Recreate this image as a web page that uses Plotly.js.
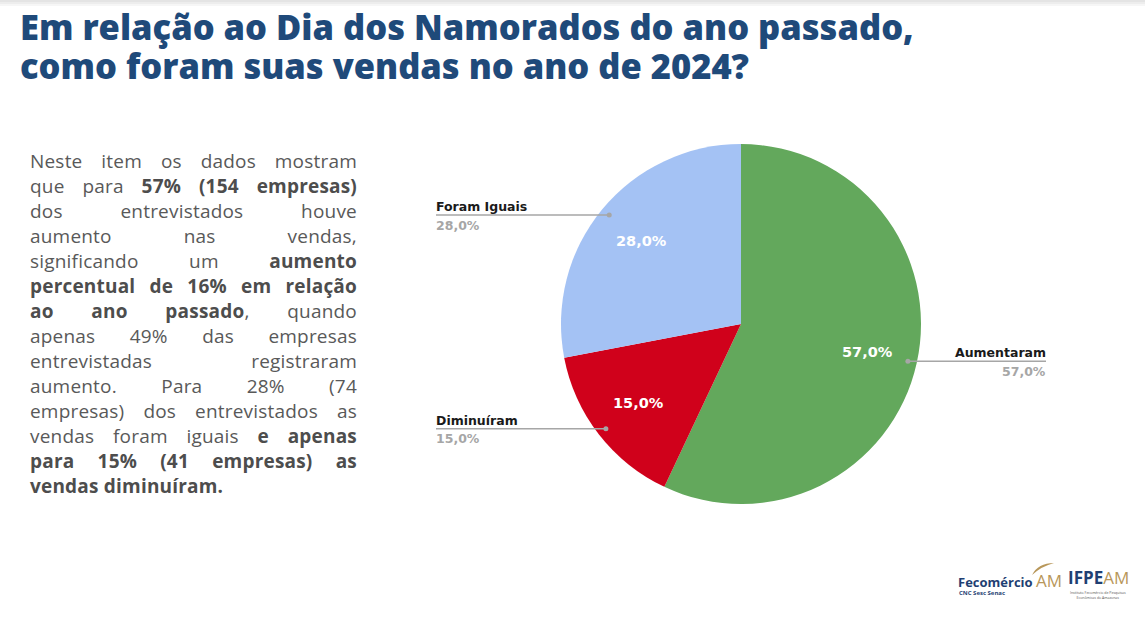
<!DOCTYPE html>
<html>
<head>
<meta charset="utf-8">
<script src="https://cdn.plot.ly/plotly-3.0.1.min.js"></script>
<style>
  body { margin: 0; background: #ffffff; }
  #wrap { position: relative; width: 1145px; height: 618px; overflow: hidden; }
  #chart { position: absolute; left: 0; top: 0; width: 1145px; height: 618px; }
  #texto {
    position: absolute; left: 30px; top: 149px; width: 327px;
    font-family: "Open Sans", sans-serif; font-size: 19px; line-height: 25px;
    letter-spacing: 0.2px; color: #595959;
  }
  #texto div { text-align: justify; text-align-last: justify; white-space: nowrap; }
  #texto div.last { text-align-last: left; }
  #texto b { font-weight: 700; color: #4d4d4d; }
</style>
</head>
<body>
<div id="wrap">
  <div id="chart"></div>
  <div id="texto">
    <div>Neste item os dados mostram</div>
    <div>que para <b>57% (154 empresas)</b></div>
    <div>dos entrevistados houve</div>
    <div>aumento nas vendas,</div>
    <div>significando um <b>aumento</b></div>
    <div><b>percentual de 16% em relação</b></div>
    <div><b>ao ano passado</b>, quando</div>
    <div>apenas 49% das empresas</div>
    <div>entrevistadas registraram</div>
    <div>aumento. Para 28% (74</div>
    <div>empresas) dos entrevistados as</div>
    <div>vendas foram iguais <b>e apenas</b></div>
    <div><b>para 15% (41 empresas) as</b></div>
    <div class="last"><b>vendas diminuíram.</b></div>
  </div>
</div>
<script>
// Dados do gráfico
const categories = ['Aumentaram', 'Diminuíram', 'Foram Iguais'];
const shares = [57.0, 15.0, 28.0];
const sliceColors = ['#63a85c', '#d0011b', '#a4c2f4'];
const labelSides = ['right', 'left', 'left'];

const titleLines = [
  'Em relação ao Dia dos Namorados do ano passado,',
  'como foram suas vendas no ano de 2024?'
];

const W = 1145, H = 618;
// Pie placement (pixels)
const cx = 741, cy = 324, R = 180;
const leftLabelX = 436, rightLabelX = 1046;

function px(x) { return x / W; }
function py(y) { return 1 - y / H; }
function fmt(v) { return v.toFixed(1).replace('.', ',') + '%'; }

const total = shares.reduce((t, v) => t + v, 0);

const annotations = [];
const shapes = [];

// Top shadow
[['#e4e4e4', 0, 2], ['#ededed', 2, 4], ['#f6f6f6', 4, 6]].forEach(function(s) {
  shapes.push({type: 'rect', xref: 'paper', yref: 'paper', x0: 0, x1: 1, y0: py(s[2]), y1: py(s[1]),
    fillcolor: s[0], line: {width: 0}, layer: 'below'});
});

// Title
titleLines.forEach(function(t, i) {
  annotations.push({
    text: t, xref: 'paper', yref: 'paper', x: px(18), y: py(26 + i * 39),
    xanchor: 'left', yanchor: 'middle', showarrow: false,
    font: {family: 'Open Sans, sans-serif', size: 34.5, weight: 800, color: '#1f4a7a'}
  });
});

// Slice labels and leader lines
let start = 0;
categories.forEach(function(name, i) {
  const mid = (start + shares[i] / 2) / total * 2 * Math.PI;
  start += shares[i];
  const s = Math.sin(mid), c = Math.cos(mid);

  // inside value
  annotations.push({
    text: '<b>' + fmt(shares[i]) + '</b>', xref: 'paper', yref: 'paper',
    x: px(cx + 0.72 * R * s), y: py(cy - 0.72 * R * c), showarrow: false,
    xanchor: 'center', yanchor: 'middle',
    font: {family: 'DejaVu Sans, sans-serif', size: 14.5, color: '#ffffff'}
  });

  // leader
  const dx = cx + 0.95 * R * s, dy = cy - 0.95 * R * c;
  const endX = labelSides[i] === 'left' ? leftLabelX : rightLabelX;
  shapes.push({type: 'line', xref: 'paper', yref: 'paper', x0: px(dx), x1: px(endX), y0: py(dy), y1: py(dy),
    line: {color: '#a6a6a6', width: 1.5}});
  shapes.push({type: 'circle', xref: 'paper', yref: 'paper', x0: px(dx - 2.5), x1: px(dx + 2.5),
    y0: py(dy + 2.5), y1: py(dy - 2.5), fillcolor: '#a6a6a6', line: {width: 0}});

  const anchor = labelSides[i] === 'left' ? 'left' : 'right';
  const tx = labelSides[i] === 'left' ? endX - 2 : endX + 2;
  annotations.push({
    text: '<b>' + name + '</b>', xref: 'paper', yref: 'paper', x: px(tx), y: py(dy - 8.5),
    xanchor: anchor, yanchor: 'middle', showarrow: false,
    font: {family: 'DejaVu Sans, sans-serif', size: 12.5, color: '#1a1a1a'}
  });
  annotations.push({
    text: '<b>' + fmt(shares[i]) + '</b>', xref: 'paper', yref: 'paper', x: px(tx), y: py(dy + 10),
    xanchor: anchor, yanchor: 'middle', showarrow: false,
    font: {family: 'DejaVu Sans, sans-serif', size: 12.5, color: '#a6a6a6'}
  });
});

// Logos (text)
function addText(text, x, y, size, color, anchor, family) {
  annotations.push({text: text, xref: 'paper', yref: 'paper', x: px(x), y: py(y), showarrow: false,
    xanchor: anchor || 'left', yanchor: 'middle', borderpad: 0,
    font: {family: family || 'Open Sans, sans-serif', size: size, color: color}});
}
addText('<b>Fecomércio</b> <span style="color:#b8975a;font-weight:400;font-size:17px">AM</span>',
  957, 580, 13, '#1f3f73');
addText('<b>CNC Sesc Senac</b>', 958, 593, 6, '#1f3f73');
addText('<b>IFPE</b><span style="color:#b8975a">AM</span>', 1067, 577.5, 17, '#1f3f73');
addText('Instituto Fecomércio de Pesquisas<br>Econômicas do Amazonas', 1098, 595, 3.5, '#555555', 'center');
shapes.push({type: 'path', xref: 'paper', yref: 'paper',
  path: 'M ' + px(1032) + ',' + py(575) + ' Q ' + px(1038) + ',' + py(563) + ' ' + px(1054) + ',' + py(563) +
        ' Q ' + px(1042) + ',' + py(566) + ' ' + px(1032) + ',' + py(575) + ' Z',
  fillcolor: '#b8975a', line: {width: 0}});

const data = [{
  type: 'pie',
  labels: categories,
  values: shares,
  marker: {colors: sliceColors, line: {width: 0}},
  sort: false,
  direction: 'clockwise',
  rotation: 0,
  textinfo: 'none',
  hoverinfo: 'label+percent',
  domain: {x: [px(cx - R), px(cx + R)], y: [py(cy + R), py(cy - R)]}
}];

const layout = {
  width: W, height: H,
  margin: {l: 0, r: 0, t: 0, b: 0},
  paper_bgcolor: 'rgba(0,0,0,0)',
  plot_bgcolor: 'rgba(0,0,0,0)',
  showlegend: false,
  annotations: annotations,
  shapes: shapes
};

Plotly.newPlot('chart', data, layout, {displayModeBar: false, staticPlot: true});
</script>
</body>
</html>
